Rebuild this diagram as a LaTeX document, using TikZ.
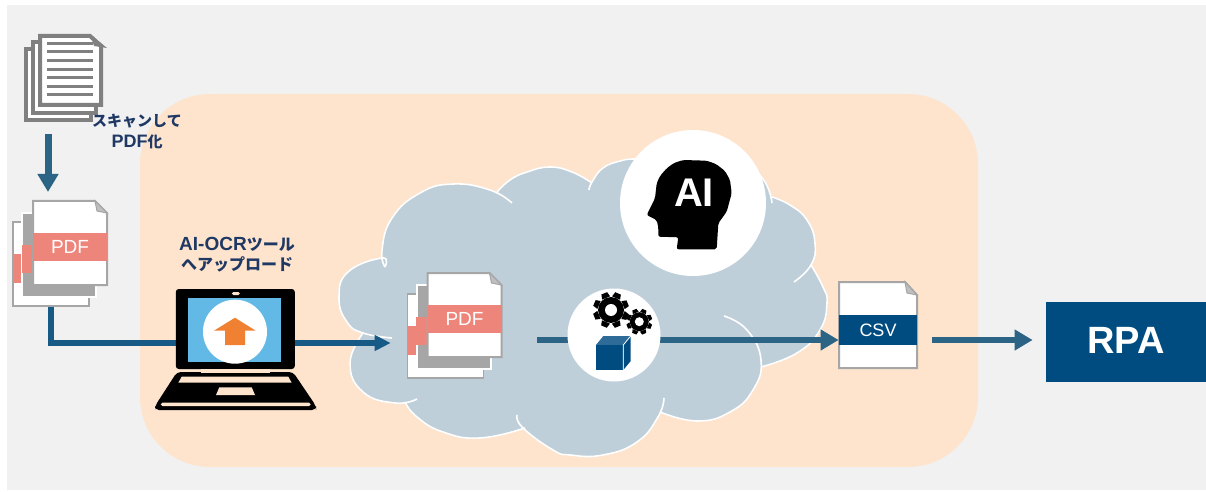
\documentclass[tikz,border=0pt]{standalone}
\usepackage{fontspec}
\setmainfont{Liberation Sans}
\newfontfamily\cjkfont{Noto Sans CJK JP}
\usetikzlibrary{positioning, calc, arrows.meta}
\definecolor{panelgray}{RGB}{241, 241, 241}
\definecolor{zonepeach}{RGB}{254, 228, 204}
\definecolor{cloudblue}{RGB}{191, 207, 218}
\definecolor{sheetgray}{RGB}{166, 166, 166}
\definecolor{scangray}{RGB}{128, 128, 128}
\definecolor{bandsalmon}{RGB}{238, 133, 122}
\definecolor{rpablue}{RGB}{0, 76, 128}
\definecolor{cubetop}{RGB}{47, 107, 153}
\definecolor{flowblue}{RGB}{43, 100, 132}
\definecolor{uplinkblue}{RGB}{23, 90, 133}
\definecolor{labelnavy}{RGB}{31, 56, 100}
\definecolor{screenblue}{RGB}{99, 185, 229}
\definecolor{uparrow}{RGB}{240, 128, 50}
% one lobe of the cloud: a fill and a white edge with its tail
\newcommand{\lobefill}[1]{\path[fill=cloudblue, draw=cloudblue, line width=0.5pt] plot[smooth, tension=0.8] coordinates {#1} -- cycle;}
\newcommand{\lobeedge}[1]{\draw[white, line width=0.8pt] plot[smooth, tension=0.8] coordinates {#1};}
\newcommand{\cloudlobes}[1]{%
    #1{(385,267) (382,250) (392,218) (420,193) (453,184) (490,190) (512,203)}
    #1{(497,192) (510,180) (527,172) (550,167) (572,172) (592,183)}
    #1{(589,190) (592,182) (603,168) (620,161) (633,159) (645,160)}
    #1{(745,160) (765,182) (772,203)}
    #1{(772,197) (790,205) (807,220) (815,243) (811,265) (794,282)}
    #1{(811,265) (823,287) (827,303) (820,330) (797,353) (761,367)}
    #1{(724,316) (747,330) (761,360) (753,390) (730,412) (697,421) (660,412)}
    #1{(664,398) (658,417) (637,442) (603,455) (570,455) (553,450) (523,428) (517,415)}
    #1{(525,428) (480,438) (443,432) (417,417) (405,402)}
    #1{(417,399) (395,403) (363,392) (350,363) (363,333)}
    #1{(392,338) (363,333) (347,322) (339,298) (348,272) (382,258) (385,267)}
}
% x, y, outer radius, body radius, hole radius
\newcommand{\gearicon}[5]{%
    \foreach \a in {0,45,...,315} {
        \fill[black, shift={(#1,#2)}, rotate=\a+22] (-0.24*#3,-#4) -- (-0.17*#3,-#3) -- (0.17*#3,-#3) -- (0.24*#3,-#4) -- cycle;
    }
    \fill[black] (#1,#2) circle[radius=#4];
    \fill[white] (#1,#2) circle[radius=#5];
}
\tikzset{
    docsheet/.style={draw=sheetgray, line width=1pt, fill=white, line join=miter},
    docfold/.style={draw=sheetgray, line width=0.5pt, fill=black!25},
    scansheet/.style={draw=scangray, line width=2pt, fill=white},
    bandnode/.style={fill=bandsalmon, inner sep=0pt, text=white, font=\fontsize{9.5}{11}\selectfont},
    flowarrow/.style={flowblue, line width=3pt, -{Triangle[length=9pt, width=10pt]}},
    uplink/.style={uplinkblue, line width=3pt},
    labeltext/.style={text=labelnavy, align=center, font=\cjkfont\bfseries\fontsize{8}{10}\selectfont},
    pdfstack/.pic={
        \node[docsheet, line width=0.8pt, inner sep=0pt, minimum width=38pt, minimum height=42pt] (-back) at (51,264) {};
        \node[bandnode, minimum width=4pt, minimum height=14.5pt] (-backband) at (17,268.5) {};
        \node[draw=white, fill=sheetgray, line width=1pt, inner sep=0pt, minimum width=37pt, minimum height=42pt] (-mid) at (59,255) {};
        \node[bandnode, minimum width=5.5pt, minimum height=14pt] (-midband) at (27,259) {};
        \draw[docsheet] (33,201) -- (95,201) -- (107,213) -- (107,285) -- (33,285) -- cycle;
        \draw[docfold] (95,201) -- (107,213) -- (97,211) -- cycle;
        \node[bandnode, minimum width=37pt, minimum height=14pt] (-band) at (70,247) {PDF};
    }
}
\newcommand{\latintext}[2]{{\rmfamily\bfseries\fontsize{#1}{10}\selectfont #2}}
\begin{document}
\begin{tikzpicture}[x=0.5pt, y=-0.5pt]
    \useasboundingbox (0,0) rectangle (1206,492);
    \fill[panelgray] (7,5) rectangle (1206,490);
    \fill[zonepeach, rounded corners=35pt] (140,94) rectangle (978,467);

    % cloud
    \fill[cloudblue] (385,267) -- (497,192) -- (592,183) -- (645,160) -- (745,160) -- (772,197) -- (811,265) -- (761,367) -- (660,412) -- (525,428) -- (405,402) -- (363,333) -- cycle;
    \cloudlobes{\lobefill}
    \cloudlobes{\lobeedge}

    % csv file
    \draw[docsheet] (839,282) -- (905,282) -- (917,295) -- (917,368) -- (839,368) -- cycle;
    \draw[docfold] (905,282) -- (917,295) -- (907,293) -- cycle;
    \node[fill=rpablue, inner sep=0pt, text=white, font=\fontsize{9}{11}\selectfont, minimum width=39pt, minimum height=15pt] (csvband) at (878,330) {CSV};

    \coordinate (procstart) at (537,340);
    \draw[flowarrow] (procstart) -- (procstart -| csvband.west);

    \node[circle, fill=white, inner sep=0pt, minimum size=73pt] (aicircle) at (693,203) {};
    \node[circle, fill=white, inner sep=0pt, minimum size=46.5pt] (gearcircle) at (614,335) {};

    % scanned paper
    \draw[scansheet] (26,49) rectangle (91,120);
    \draw[scansheet] (33,42) rectangle (96,113);
    \draw[scansheet] (40,36) -- (90,36) -- (101,46) -- (101,105) -- (40,105) -- cycle;
    \fill[scangray] (90,34) -- (107,48) -- (94,46) -- cycle;
    \foreach \i in {0,...,6} {
        \fill[scangray] (46.7,41.8+8.57*\i) rectangle (92.7,44.8+8.57*\i);
    }
    \node[labeltext, font=\cjkfont\bfseries\fontsize{7.5}{10.5}\selectfont] (scanlabel) at (137,131.5) {スキャンして\\\latintext{9}{PDF}化};
    \coordinate (scanout) at (48,134);
    \coordinate (pdfin) at (48,192);
    \draw[flowblue, line width=3.5pt, -{Triangle[length=9pt, width=10pt]}] (scanout) -- (pdfin);

    % files
    \pic (pdfA) at (0,0) {pdfstack};
    \pic (pdfB) at (394.5,72) {pdfstack};

    % uploads
    \coordinate (lapin) at (235,343);
    \draw[uplink] (pdfA-back.south) |- (lapin);
    \draw[uplink, shorten >=8pt, -{Triangle[length=8pt, width=7.5pt]}] (lapin) -- (lapin -| pdfB-back.west);

    % laptop
    \fill[black, rounded corners=2pt] (177,372) -- (293,372) -- (316,406) -- (316,410) -- (155,410) -- (155,406) -- cycle;
    \node[fill=black, rounded corners=1.5pt, inner sep=0pt, minimum width=59.5pt, minimum height=40pt] (laptop) at (235.3,329) {};
    \node[fill=screenblue, inner sep=0pt, minimum width=46.3pt, minimum height=32pt] (screen) at (234.6,330.3) {};
    \node[circle, fill=white, inner sep=0pt, minimum size=32pt] (upcircle) at (235,331.7) {};
    \fill[uparrow] (235,317.7) -- (255.7,330.7) -- (245,330.7) -- (245,345) -- (225,345) -- (225,330.7) -- (214,330.7) -- cycle;
    \fill[zonepeach, rounded corners=0.8pt] (231.7,292) rectangle (240,295);
    \fill[zonepeach] (200.7,369) rectangle (270,372.7);
    \fill[zonepeach] (181.7,376.7) -- (288.3,376.7) -- (291.7,382.7) -- (178.3,382.7) -- cycle;
    \fill[zonepeach] (219.3,387.3) -- (251.7,387.3) -- (255,395) -- (216,395) -- cycle;
    \fill[zonepeach, rounded corners=0.8pt] (160.7,402.7) rectangle (310.7,406);
    \node[labeltext] (uploadlabel) at (237,255) {\latintext{9.5}{AI-OCR}ツール\\へアップロード};

    % AI head
    \fill[black, rounded corners=1pt] (716.7,249.3) -- (718.3,223.3) -- (726.7,211.7) -- (731.7,193.3) -- (730,180) -- (725,171) -- (716,164) -- (706.7,160.7) -- (683.3,160) -- (674,163) -- (666.7,168.3) -- (660,176) -- (656.7,183.3) -- (655,198.3) -- (646.7,215) -- (656.7,220) -- (658.3,227.3) -- (658.3,236.7) -- (678.3,237.3) -- (676.7,249.3) -- cycle;
    \node[text=white, inner sep=0pt, font=\bfseries\fontsize{20}{22}\selectfont] (ailabel) at (694,193) {AI};

    % gears and box
    \gearicon{611}{310}{18}{13}{6}
    \gearicon{639.3}{321.7}{13}{9.5}{4.5}
    \fill[cubetop] (596,345) -- (603.3,336) -- (630.7,336) -- (623.3,345) -- cycle;
    \fill[rpablue] (596,345) rectangle (623.3,370);
    \fill[rpablue] (623.3,345) -- (630.7,336) -- (630.7,361) -- (623.3,370) -- cycle;
    \draw[white, line width=0.4pt] (623.3,370) -- (623.3,345) -- (630.7,336);

    % rpa
    \node[fill=rpablue, inner sep=0pt, text=white, font=\bfseries\fontsize{19}{20}\selectfont, text height=13.6pt, text depth=2pt, minimum width=80pt, minimum height=40pt] (rpa) at (1126,342) {RPA};
    \coordinate (csvout) at (932,340);
    \draw[flowarrow, shorten >=6.5pt] (csvout) -- (csvout -| rpa.west);
\end{tikzpicture}
\end{document}
